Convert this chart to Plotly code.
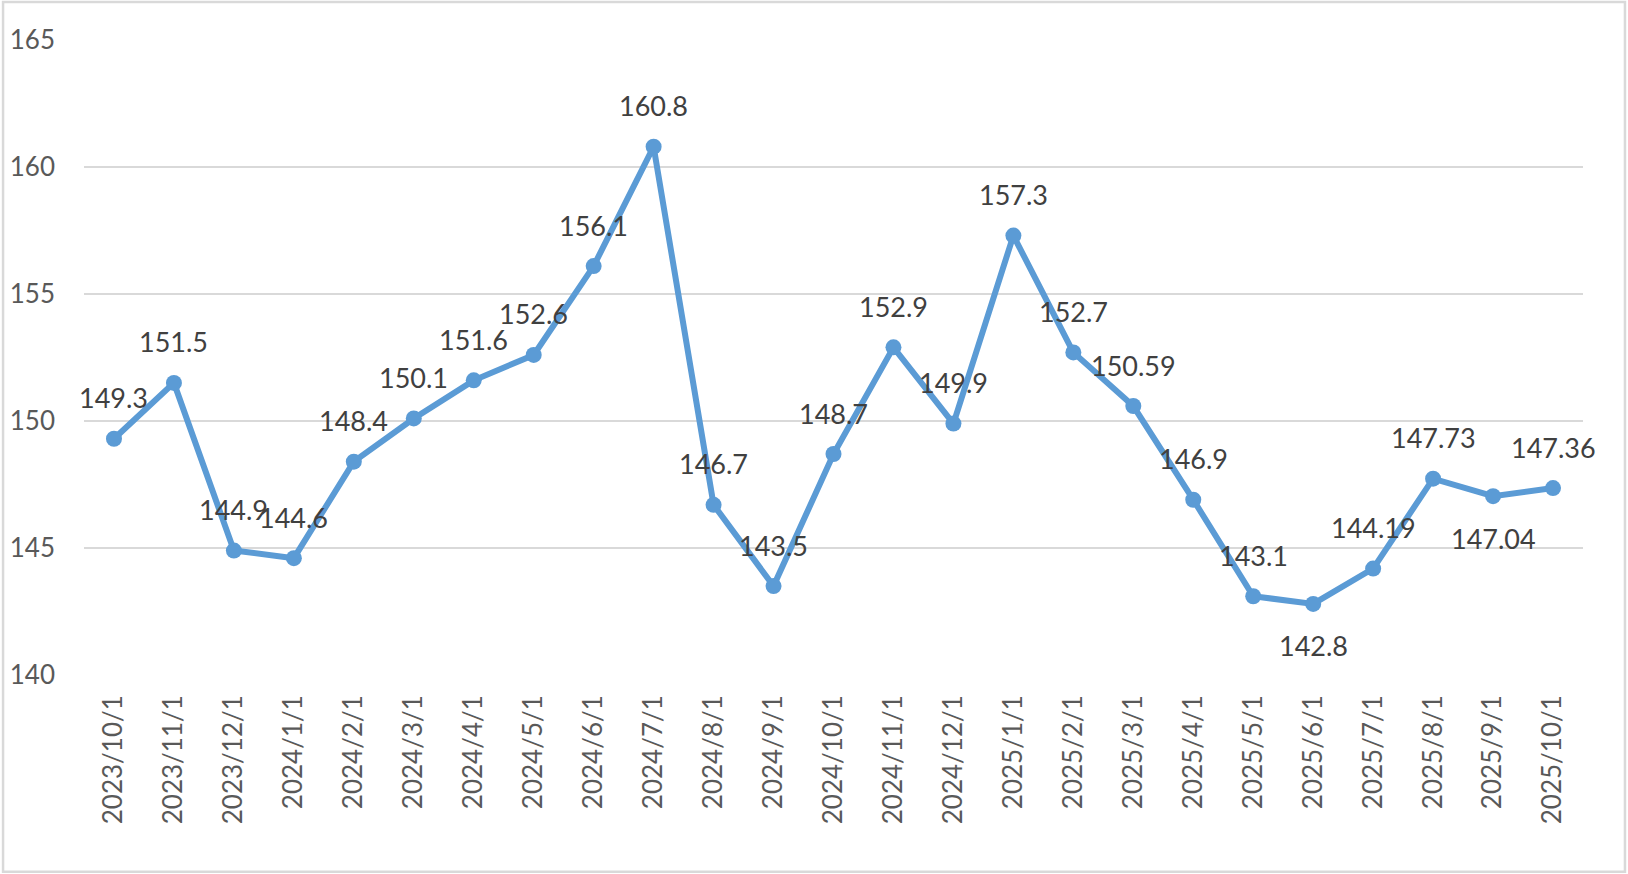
import plotly.graph_objects as go

dates = ["2023/10/1", "2023/11/1", "2023/12/1", "2024/1/1", "2024/2/1", "2024/3/1",
         "2024/4/1", "2024/5/1", "2024/6/1", "2024/7/1", "2024/8/1", "2024/9/1",
         "2024/10/1", "2024/11/1", "2024/12/1", "2025/1/1", "2025/2/1", "2025/3/1",
         "2025/4/1", "2025/5/1", "2025/6/1", "2025/7/1", "2025/8/1", "2025/9/1",
         "2025/10/1"]
values = [149.3, 151.5, 144.9, 144.6, 148.4, 150.1, 151.6, 152.6, 156.1, 160.8,
          146.7, 143.5, 148.7, 152.9, 149.9, 157.3, 152.7, 150.59, 146.9, 143.1,
          142.8, 144.19, 147.73, 147.04, 147.36]
labels = ["149.3", "151.5", "144.9", "144.6", "148.4", "150.1", "151.6", "152.6",
          "156.1", "160.8", "146.7", "143.5", "148.7", "152.9", "149.9", "157.3",
          "152.7", "150.59", "146.9", "143.1", "142.8", "144.19", "147.73",
          "147.04", "147.36"]
below = {"2025/6/1", "2025/9/1"}

FONT = "Lato"
BLUE = "#5B9BD5"

fig = go.Figure()
fig.add_trace(go.Scatter(
    x=dates, y=values, mode="lines+markers",
    line=dict(color=BLUE, width=6),
    marker=dict(color=BLUE, size=16),
    hoverinfo="x+y", showlegend=False,
))

for d, v, t in zip(dates, values, labels):
    fig.add_annotation(
        x=d, y=v, text=t, showarrow=False,
        yshift=-42 if d in below else 41,
        font=dict(family=FONT, size=27, color="#404040"),
    )

fig.add_shape(type="rect", xref="paper", yref="paper",
              x0=-0.054, x1=1.028, y0=-0.310, y1=1.060,
              line=dict(color="#d9d9d9", width=2.5), layer="below")

fig.update_layout(
    width=1628, height=874,
    margin=dict(l=84, r=45, t=40, b=199, autoexpand=False),
    paper_bgcolor="white", plot_bgcolor="white",
    font=dict(family=FONT, color="#595959"),
    xaxis=dict(
        type="category", range=[-0.5, len(dates) - 0.5],
        tickangle=-90, showgrid=False, showline=False,
        tickfont=dict(family=FONT, size=26, color="#595959"),
        ticks="", ticklabelstandoff=14,
    ),
    yaxis=dict(
        range=[140, 165], dtick=5, showgrid=True, gridcolor="#d9d9d9", gridwidth=2,
        zeroline=False, showline=False, ticks="",
        tickfont=dict(family=FONT, size=26, color="#595959"),
        ticklabelstandoff=28,
    ),
)

fig.write_html("out.html", config={"displayModeBar": False},
               post_script="document.body.style.margin='0';document.body.style.overflow='hidden';")
